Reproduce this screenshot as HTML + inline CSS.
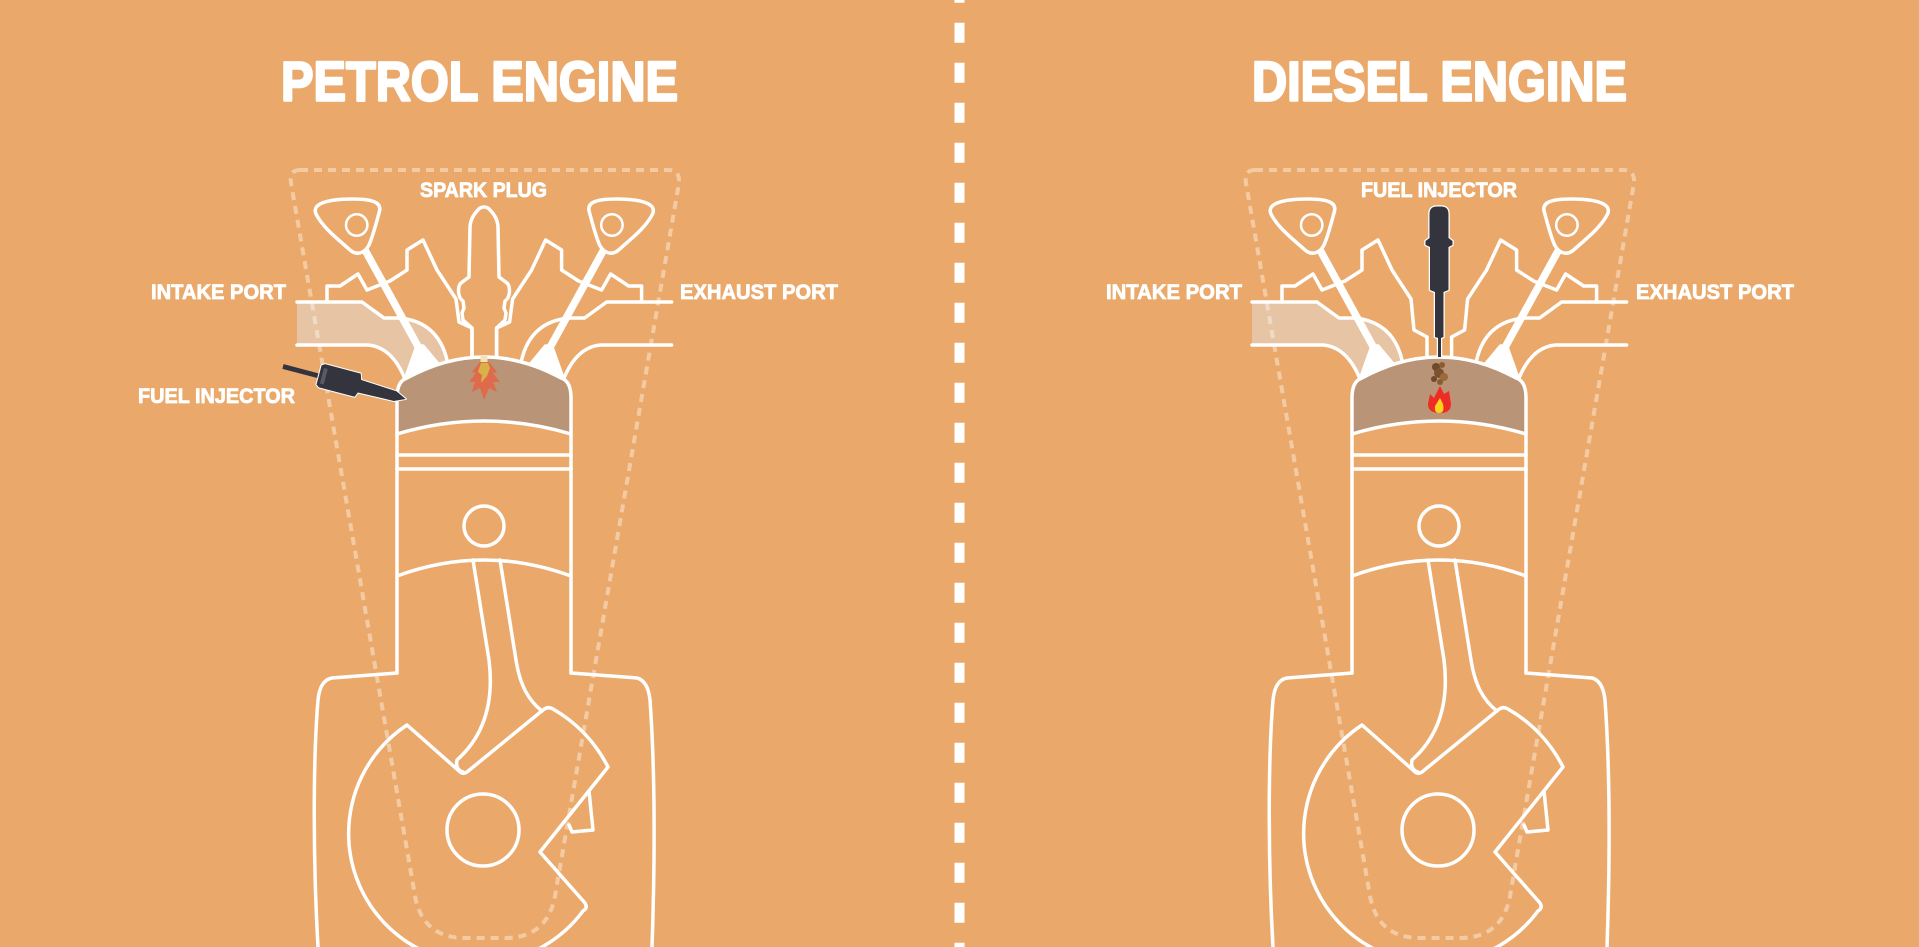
<!DOCTYPE html>
<html>
<head>
<meta charset="utf-8">
<style>
  html,body{margin:0;padding:0;background:#EAA96A;}
  body{width:1919px;height:947px;overflow:hidden;}
  svg{display:block;}
  .w{fill:none;stroke:#fff;stroke-width:3.5;stroke-linejoin:round;stroke-linecap:round;}
  .dash{fill:none;stroke:rgba(255,255,255,0.4);stroke-width:4;stroke-dasharray:8 6;}
  text{font-family:"Liberation Sans",Arial,sans-serif;font-weight:700;fill:#fff;stroke:#fff;stroke-linejoin:round;}
  .t{stroke-width:2.4;}
  .l{stroke-width:0.8;}
</style>
</head>
<body>
<svg width="1919" height="947" viewBox="0 0 1919 947" xmlns="http://www.w3.org/2000/svg">
  <rect width="1919" height="947" fill="#EAA96A"/>
  <!-- divider -->
  <path d="M959.5,-17.3V960" stroke="#fff" stroke-width="10" stroke-dasharray="20 20" fill="none"/>

  <!-- titles -->
  <text class="t" x="281" y="100.5" font-size="56" textLength="397" lengthAdjust="spacingAndGlyphs">PETROL ENGINE</text>
  <text class="t" x="1252" y="100.5" font-size="56" textLength="375" lengthAdjust="spacingAndGlyphs">DIESEL ENGINE</text>

  <!-- labels left -->
  <text class="l" x="420" y="197" font-size="21.5" textLength="127" lengthAdjust="spacingAndGlyphs">SPARK PLUG</text>
  <text class="l" x="151" y="299" font-size="21.5" textLength="135" lengthAdjust="spacingAndGlyphs">INTAKE PORT</text>
  <text class="l" x="680" y="299" font-size="21.5" textLength="158" lengthAdjust="spacingAndGlyphs">EXHAUST PORT</text>
  <text class="l" x="138" y="403" font-size="21.5" textLength="157" lengthAdjust="spacingAndGlyphs">FUEL INJECTOR</text>
  <!-- labels right -->
  <text class="l" x="1361" y="197" font-size="21.5" textLength="156" lengthAdjust="spacingAndGlyphs">FUEL INJECTOR</text>
  <text class="l" x="1106" y="299" font-size="21.5" textLength="136" lengthAdjust="spacingAndGlyphs">INTAKE PORT</text>
  <text class="l" x="1636" y="299" font-size="21.5" textLength="158" lengthAdjust="spacingAndGlyphs">EXHAUST PORT</text>

  <!-- ================= PETROL ENGINE ================= -->
  <g>
    <path fill="#E7C4A4" d="M297,302 L362,302 L384,318 L400,318 Q438,322 447,360 L405,380 Q392,347 368,345 L297,345 Z"/>
    <path fill="#B99476" d="M397,434 L397,398 Q397,381 407,378 Q484,336 561,378 Q571,381 571,398 L571,434 Q484,408 397,434 Z"/>
    <path class="dash" d="M300,170 L668,170 Q680,170 679,183 L556,890 Q550,938 505,938 L465,938 Q420,938 414,890 L291,183 Q289,170 300,170 Z"/>
    <g class="w">
      <!-- cylinder + dome -->
      <path d="M397,673 L397,398 Q397,381 407,378 Q484,336 561,378 Q571,381 571,398 L571,673"/>
      <path d="M397,434 Q484,408 571,434"/>
      <path d="M397,455 H571 M397,469 H571"/>
      <circle cx="484" cy="526" r="20"/>
      <path d="M397,576 Q484,544 571,576"/>
      <!-- crankcase -->
      <path d="M397,673 L332,678 Q320,680 318,700 C313,760 313,860 318,947"/>
      <path d="M571,673 L637,678 Q648,681 650,700 C655,770 655,860 652,947"/>
      <!-- rod -->
      <path d="M473,560 L489,660 C494,700 485,735 457,760 Q455,770 463,772"/>
      <path d="M500,560 L516,660 C520,685 528,700 542,711"/>
      <!-- crank web -->
      <path d="M407,725 L459,771 Q463,775 467,772 L543,710 Q548,706 553,709 A140 140 0 0 1 608,767 L540,852 L585,903 Q588,908 583,911 A130 130 0 1 1 407,725 Z"/>
      <path d="M589,791 L593,830 L572,832 L569,825"/>
      <circle cx="483" cy="830" r="36"/>
      <!-- head left half -->
      <path d="M297,302 L362,302 L384,318 L400,318 Q438,322 447,360"/>
      <path d="M297,345 L368,345 Q392,347 405,379"/>
      <path d="M327,302 L327,286 L340,286 L358,274 L367,290 L390,281 L407,270 L407,250 L423,240 L437,270 L456,299 L459,322 L472,328 L472,357"/>
      <path d="M316,214 C311,203 330,199 352,199 C372,199 383,202 379,213 C376,224 373,236 369,245 C365,253 357,256 350,250 C339,240 323,228 316,214 Z"/>
      <circle cx="356.7" cy="225" r="10.7" stroke-width="2.5"/>
      <path d="M365,250 L420,350" stroke-width="7.5" stroke-linecap="butt"/>
      <path d="M417,346 L423,346 L438,364 L406,377 Z" fill="#fff"/>
      <!-- head right half (mirror) -->
      <g transform="matrix(-1 0 0 1 968.6 0)">
        <path d="M297,302 L362,302 L384,318 L400,318 Q438,322 447,360"/>
        <path d="M297,345 L368,345 Q392,347 405,379"/>
        <path d="M327,302 L327,286 L340,286 L358,274 L367,290 L390,281 L407,270 L407,250 L423,240 L437,270 L456,299 L459,322 L472,328 L472,357"/>
        <path d="M316,214 C311,203 330,199 352,199 C372,199 383,202 379,213 C376,224 373,236 369,245 C365,253 357,256 350,250 C339,240 323,228 316,214 Z"/>
        <circle cx="356.7" cy="225" r="10.7" stroke-width="2.5"/>
        <path d="M365,250 L420,350" stroke-width="7.5" stroke-linecap="butt"/>
        <path d="M417,346 L423,346 L438,364 L406,377 Z" fill="#fff"/>
      </g>
      <!-- spark plug -->
      <path d="M472,356 L472,328 L463,320 L462,313 L464,308 L463,301 C458,298 457,287 461,283 L469,277 L470,228 C470,220 474,214 478,210 C481,206 487,206 490,210 C494,214 498,220 498,228 L499,277 L507,283 C511,287 510,298 505,301 L504,308 L506,313 L505,320 L496.6,328 L496.6,356"/>
    </g>
    <!-- spark flame -->
    <path fill="#E06A4C" d="M480,362 L472,372 L476,373 L469,382 L475,382 L472,392 L480,388 L484,400 L489,388 L497,392 L493,382 L500,382 L493,373 L497,372 L489,362 Z"/>
    <path fill="#D9B247" d="M481,363 L478,372 L482,375 L481,383 L487,376 L490,368 L488,363 Z"/>
    <rect x="480.5" y="356" width="7" height="6" fill="#F3E3B0"/>
    <!-- fuel injector (side) -->
    <g transform="translate(283,366.5) rotate(14.8)">
      <rect x="0" y="-2.4" width="40" height="4.8" fill="#34343E"/>
      <path d="M37,-11 L40,-13 L77,-13 L79,-7 L116,-5 L127,0 L116,5 L79,6 L77,11 L40,11 L37,9 Z" fill="#34343E" stroke="#fff" stroke-width="2" stroke-linejoin="round" paint-order="stroke"/>
      <rect x="40" y="-9" width="4" height="16" fill="#5A5A66"/>
    </g>
  </g>

  <!-- ================= DIESEL ENGINE ================= -->
  <g transform="translate(955,0)">
    <path fill="#E7C4A4" d="M297,302 L362,302 L384,318 L400,318 Q438,322 447,360 L405,380 Q392,347 368,345 L297,345 Z"/>
    <path fill="#B99476" d="M397,434 L397,398 Q397,381 407,378 Q484,336 561,378 Q571,381 571,398 L571,434 Q484,408 397,434 Z"/>
    <path class="dash" d="M300,170 L668,170 Q680,170 679,183 L556,890 Q550,938 505,938 L465,938 Q420,938 414,890 L291,183 Q289,170 300,170 Z"/>
    <g class="w">
      <path d="M397,673 L397,398 Q397,381 407,378 Q484,336 561,378 Q571,381 571,398 L571,673"/>
      <path d="M397,434 Q484,408 571,434"/>
      <path d="M397,455 H571 M397,469 H571"/>
      <circle cx="484" cy="526" r="20"/>
      <path d="M397,576 Q484,544 571,576"/>
      <path d="M397,673 L332,678 Q320,680 318,700 C313,760 313,860 318,947"/>
      <path d="M571,673 L637,678 Q648,681 650,700 C655,770 655,860 652,947"/>
      <path d="M473,560 L489,660 C494,700 485,735 457,760 Q455,770 463,772"/>
      <path d="M500,560 L516,660 C520,685 528,700 542,711"/>
      <path d="M407,725 L459,771 Q463,775 467,772 L543,710 Q548,706 553,709 A140 140 0 0 1 608,767 L540,852 L585,903 Q588,908 583,911 A130 130 0 1 1 407,725 Z"/>
      <path d="M589,791 L593,830 L572,832 L569,825"/>
      <circle cx="483" cy="830" r="36"/>
      <path d="M297,302 L362,302 L384,318 L400,318 Q438,322 447,360"/>
      <path d="M297,345 L368,345 Q392,347 405,379"/>
      <path d="M327,302 L327,286 L340,286 L358,274 L367,290 L390,281 L407,270 L407,250 L423,240 L437,270 L456,299 L459,330 L472,337 L472,357"/>
      <path d="M316,214 C311,203 330,199 352,199 C372,199 383,202 379,213 C376,224 373,236 369,245 C365,253 357,256 350,250 C339,240 323,228 316,214 Z"/>
      <circle cx="356.7" cy="225" r="10.7" stroke-width="2.5"/>
      <path d="M365,250 L420,350" stroke-width="7.5" stroke-linecap="butt"/>
      <path d="M417,346 L423,346 L438,364 L406,377 Z" fill="#fff"/>
      <g transform="matrix(-1 0 0 1 968.6 0)">
        <path d="M297,302 L362,302 L384,318 L400,318 Q438,322 447,360"/>
        <path d="M297,345 L368,345 Q392,347 405,379"/>
        <path d="M327,302 L327,286 L340,286 L358,274 L367,290 L390,281 L407,270 L407,250 L423,240 L437,270 L456,299 L459,330 L472,337 L472,357"/>
        <path d="M316,214 C311,203 330,199 352,199 C372,199 383,202 379,213 C376,224 373,236 369,245 C365,253 357,256 350,250 C339,240 323,228 316,214 Z"/>
        <circle cx="356.7" cy="225" r="10.7" stroke-width="2.5"/>
        <path d="M365,250 L420,350" stroke-width="7.5" stroke-linecap="butt"/>
        <path d="M417,346 L423,346 L438,364 L406,377 Z" fill="#fff"/>
      </g>
    </g>
    <!-- vertical injector (local coords, center x=484) -->
    <path d="M474.5,238 L474.5,214 Q474.5,206.5 482,206.5 L486,206.5 Q493.5,206.5 493.5,214 L493.5,238 L497.5,241 L497.5,245 L493.5,247 L493.5,290 L488.5,292 L488.5,337 L486,338 L486,357 L483,357 L483,338 L480,337 L480,292 L475,290 L475,247 L470.5,245 L470.5,241 Z" fill="#34343E" stroke="#fff" stroke-width="2.5" stroke-linejoin="round" paint-order="stroke"/>
    <!-- smoke -->
    <circle cx="481" cy="367" r="4" fill="#6E4A2A"/>
    <circle cx="487" cy="365" r="3" fill="#8A5C33"/>
    <circle cx="484" cy="373" r="5" fill="#7A5230"/>
    <circle cx="489" cy="377" r="4" fill="#9A6A3A"/>
    <circle cx="479" cy="379" r="3" fill="#6E4A2A"/>
    <circle cx="485" cy="382" r="3" fill="#8A5C33"/>
    <!-- flame -->
    <path d="M485,386 L489,394 L494,391 L496,404 Q496,413 485,413 Q473,413 473,404 L475,394 L479,398 Z" fill="#EE2B24"/>
    <path d="M485,398 L488,404 Q490,413 484,413 Q479,413 480,406 Z" fill="#F8D31F"/>
  </g>
</svg>
</body>
</html>
